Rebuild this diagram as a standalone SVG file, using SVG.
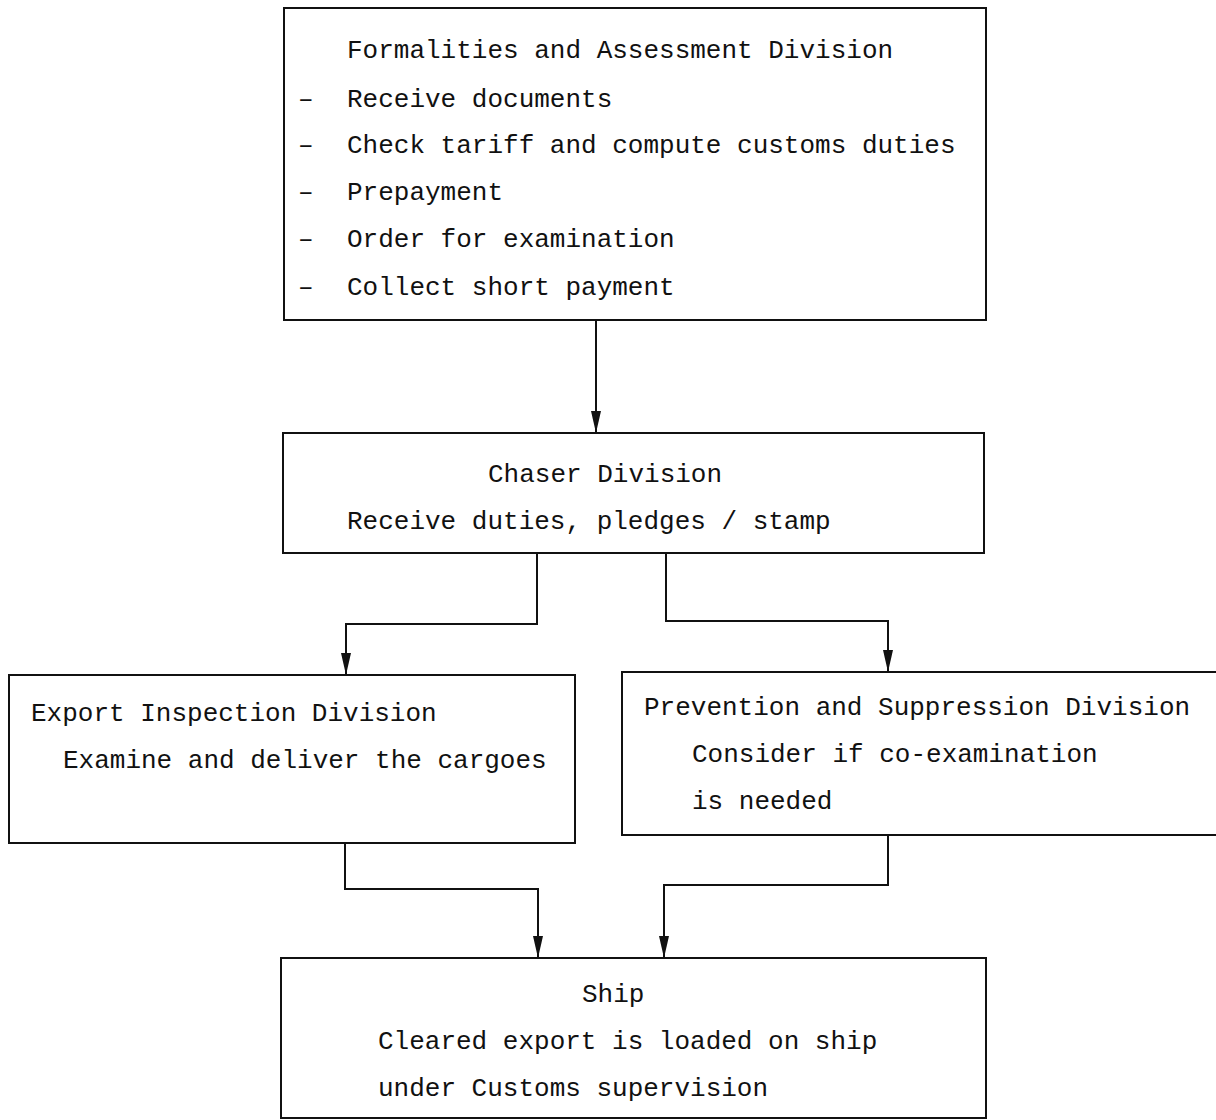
<svg xmlns="http://www.w3.org/2000/svg" width="1216" height="1120" viewBox="0 0 1216 1120">
  <style>
    .box { fill: #ffffff; stroke: #111111; stroke-width: 2; }
    .t { font-family: "Liberation Mono", "DejaVu Sans Mono", monospace; font-size: 26px; fill: #111111; }
    .wire { fill: none; stroke: #111111; stroke-width: 2; }
  </style>
  <defs>
    <marker id="arrow" markerUnits="userSpaceOnUse" markerWidth="22" markerHeight="10" viewBox="0 0 22 10" refX="22" refY="5" orient="auto">
      <path d="M0,0 L22,5 L0,10 z" fill="#111111"/>
    </marker>
  </defs>
  <rect width="1216" height="1120" fill="#ffffff"/>

  <!-- connectors -->
  <g id="connectors">
    <path class="wire" d="M596,320 V433" marker-end="url(#arrow)"/>
    <path class="wire" d="M537,553 V624 H346 V675" marker-end="url(#arrow)"/>
    <path class="wire" d="M666,553 V621 H888 V672" marker-end="url(#arrow)"/>
    <path class="wire" d="M345,843 V889 H538 V958" marker-end="url(#arrow)"/>
    <path class="wire" d="M888,835 V885 H664 V958" marker-end="url(#arrow)"/>
  </g>

  <!-- Formalities and Assessment Division -->
  <g id="formalities">
    <rect class="box" x="284" y="8" width="702" height="312"/>
    <text class="t" x="347" y="58">Formalities and Assessment Division</text>
    <text class="t" y="107"><tspan x="298">–</tspan><tspan x="347">Receive documents</tspan></text>
    <text class="t" y="153"><tspan x="298">–</tspan><tspan x="347">Check tariff and compute customs duties</tspan></text>
    <text class="t" y="200"><tspan x="298">–</tspan><tspan x="347">Prepayment</tspan></text>
    <text class="t" y="247"><tspan x="298">–</tspan><tspan x="347">Order for examination</tspan></text>
    <text class="t" y="295"><tspan x="298">–</tspan><tspan x="347">Collect short payment</tspan></text>
  </g>

  <!-- Chaser Division -->
  <g id="chaser">
    <rect class="box" x="283" y="433" width="701" height="120"/>
    <text class="t" x="488" y="482">Chaser Division</text>
    <text class="t" x="347" y="529">Receive duties, pledges / stamp</text>
  </g>

  <!-- Export Inspection Division -->
  <g id="export-inspection">
    <rect class="box" x="9" y="675" width="566" height="168"/>
    <text class="t" x="31" y="721">Export Inspection Division</text>
    <text class="t" x="63" y="768">Examine and deliver the cargoes</text>
  </g>

  <!-- Prevention and Suppression Division -->
  <g id="prevention">
    <rect class="box" x="622" y="672" width="610" height="163"/>
    <text class="t" x="644" y="715">Prevention and Suppression Division</text>
    <text class="t" x="692" y="762">Consider if co-examination</text>
    <text class="t" x="692" y="809">is needed</text>
  </g>

  <!-- Ship -->
  <g id="ship">
    <rect class="box" x="281" y="958" width="705" height="160"/>
    <text class="t" x="582" y="1002">Ship</text>
    <text class="t" x="378" y="1049">Cleared export is loaded on ship</text>
    <text class="t" x="378" y="1096">under Customs supervision</text>
  </g>
</svg>
